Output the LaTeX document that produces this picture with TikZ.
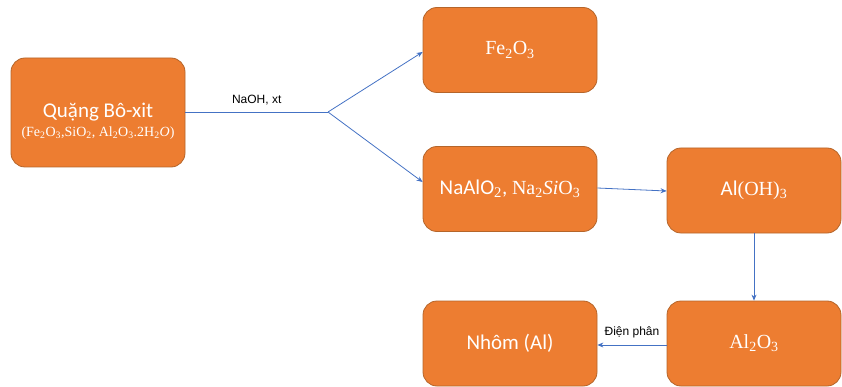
\documentclass[tikz,border=0pt]{standalone}
\usepackage{fontspec}
\setmainfont{Carlito}
\newfontfamily\cam{Liberation Serif}
\newfontfamily\arl{Liberation Sans}
\usetikzlibrary{arrows.meta}
\definecolor{orng}{HTML}{ED7D31}
\definecolor{orngdk}{HTML}{B5652A}
\definecolor{lnblue}{HTML}{4472C4}
\newcommand{\sbs}[1]{\textsubscript{#1}}
\begin{document}
\begin{tikzpicture}[x=1pt,y=-1pt,
  box/.style={draw=orngdk,line width=0.8pt,fill=orng,rounded corners=14pt,
    minimum width=174pt,minimum height=85pt,text=white,align=center,inner sep=0pt},
  conn/.style={draw=lnblue,line width=0.8pt},
  arr/.style={conn,-{Stealth[length=6pt,width=5pt]}},
  lbl/.style={font=\arl\fontsize{12}{14}\selectfont,text=black}]
\useasboundingbox (0,0) rectangle (842,387);
\node[box,minimum height=109pt] (q) at (98,112.5) {};
\node[text=white,align=center,inner sep=0pt] (qt) at (98,121)
  {\fontsize{21}{24}\selectfont Quặng Bô-xit\\[5pt]
   {\cam\fontsize{14}{16}\selectfont (Fe\sbs{2}O\sbs{3},SiO\sbs{2}, Al\sbs{2}O\sbs{3}.2H\sbs{2}\textit{O})}};
\node[box] (f) at (510,50) {\cam\fontsize{20}{22}\selectfont Fe\sbs{2}O\sbs{3}};
\node[box] (n) at (510,189) {\fontsize{21}{24}\selectfont NaAlO\textsubscript{\cam 2}, {\cam\fontsize{20}{22}\selectfont Na\sbs{2}\textit{Si}O\sbs{3}}};
\node[box] (h) at (754,190.5) {\fontsize{21}{24}\selectfont Al{\cam\fontsize{20}{22}\selectfont(OH)\sbs{3}}};
\node[box] (a) at (754,343.5) {\cam\fontsize{20}{22}\selectfont Al\sbs{2}O\sbs{3}};
\node[box] (m) at (510,343.5) {\fontsize{21}{24}\selectfont Nhôm (Al)};
\coordinate (j) at (328,112);
\draw[conn] (q.east |- 0,112) -- node[lbl,above=3pt]{NaOH, xt} (j);
\draw[arr] (j) -- (f.west |- 0,52);
\draw[arr] (j) -- (n.west |- 0,182);
\draw[arr] (n.east |- 0,188) -- (h.west |- 0,191);
\draw[arr] (h.south) -- (a.north);
\draw[arr] (a.west |- 0,345) -- node[lbl,above=3pt]{Điện phân} (m.east |- 0,345);
\end{tikzpicture}
\end{document}
